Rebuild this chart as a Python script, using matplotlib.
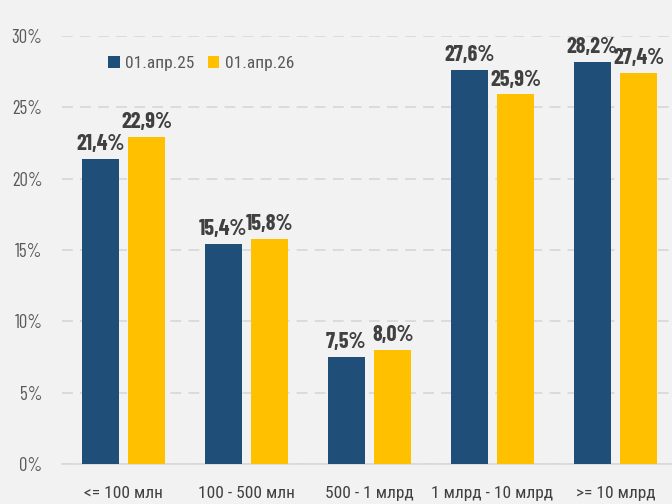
import matplotlib
matplotlib.use('Agg')
from matplotlib import pyplot as plt
from matplotlib import font_manager as fm
from matplotlib.ft2font import FT2Font
import numpy as np

categories = ['<= 100 млн', '100 - 500 млн', '500 - 1 млрд', '1 млрд - 10 млрд', '>= 10 млрд']
series_names = ['01.апр.25', '01.апр.26']
apr25 = [21.4, 15.4, 7.5, 27.6, 28.2]
apr26 = [22.9, 15.8, 8.0, 25.9, 27.4]
yticks = [0, 5, 10, 15, 20, 25, 30]

have = {}
for f in fm.fontManager.ttflist:
    if f.weight in (400, 'normal', 'regular') and f.style == 'normal':
        have.setdefault(f.name, f.fname)

def pick(wanted, codes):
    for name in wanted:
        if name in have:
            try:
                cmap = FT2Font(have[name]).get_charmap()
            except Exception:
                continue
            if all(c in cmap for c in codes):
                return name
    return 'DejaVu Sans'

#' condensed font with cyrillic for words, narrower one for the numbers
font = pick(['Roboto Condensed', 'PT Sans Narrow', 'Fira Sans Condensed',
             'IBM Plex Sans Condensed', 'Oswald'], [0x43C, 0x43F])
numfont = pick(['Barlow Condensed', 'Barlow Semi Condensed', font], [0x30, 0x25])
plt.rcParams['font.family'] = [font, 'DejaVu Sans']

bg = '#F2F2F2'
navy = '#1F4E79'
gold = '#FFC000'

fig = plt.figure(figsize=(6.72, 5.04), dpi=100, facecolor=bg)
ax = fig.add_axes([62 / 672, 40 / 504, 615 / 672, 428 / 504])
ax.set_facecolor(bg)

x = np.arange(len(categories))
w = 0.30
gap = 0.04
b1 = ax.bar(x - w / 2 - gap, apr25, w, color=navy, label=series_names[0], zorder=3)
b2 = ax.bar(x + w / 2 + gap, apr26, w, color=gold, label=series_names[1], zorder=3)

#' data labels
for bars, vals in ((b1, apr25), (b2, apr26)):
    for bar, v in zip(bars, vals):
        ax.text(bar.get_x() + bar.get_width() / 2, v + 0.35,
                ('%.1f%%' % v).replace('.', ','), ha='center', va='bottom',
                fontsize=16, fontweight='bold', color='#404040', zorder=4,
                family=[numfont, font])

ax.set_xlim(-0.5, len(categories) - 0.5)
ax.set_ylim(0, 30)
ax.set_yticks(yticks)
ax.set_yticklabels(['%d%%' % t for t in yticks], family=[numfont, font])
ax.set_xticks(x)
ax.set_xticklabels(categories)
ax.tick_params(axis='y', length=0, pad=14, labelsize=13.5, labelcolor='#595959')
ax.tick_params(axis='x', length=0, pad=16, labelsize=12.5, labelcolor='#404040')

ax.grid(axis='y', color='#D9D9D9', linestyle=(0, (6, 4)), linewidth=1.3, zorder=0)
for s in ('top', 'right', 'left'):
    ax.spines[s].set_visible(False)
ax.spines['bottom'].set_color('#D9D9D9')
ax.spines['bottom'].set_linewidth(1.3)

ax.legend(loc='upper left', bbox_to_anchor=(0.05, 0.99), ncol=2, frameon=False,
          fontsize=12.5, handlelength=0.65, handleheight=0.65, columnspacing=0.8,
          handletextpad=0.3, labelcolor='#595959')

fig.savefig('out.png', dpi=100, facecolor=bg)
